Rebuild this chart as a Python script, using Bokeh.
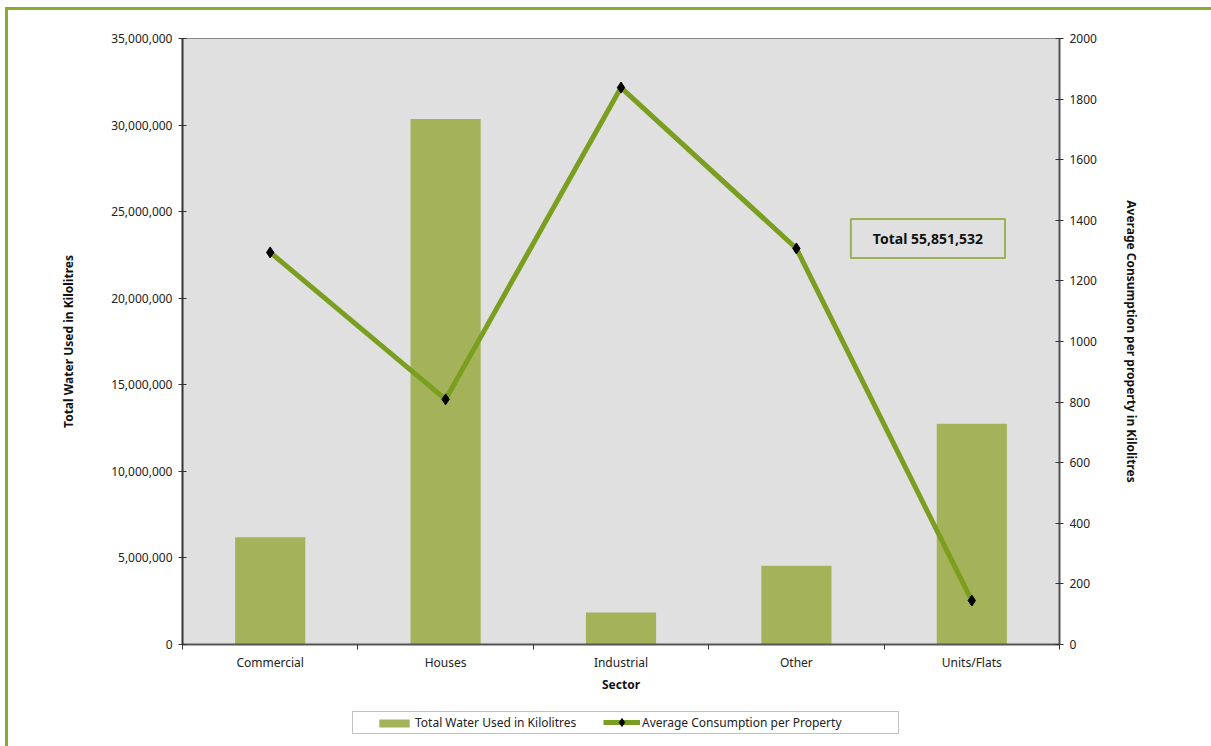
from bokeh.plotting import figure
from bokeh.layouts import column
from bokeh.models import (Range1d, LinearAxis, FixedTicker, SingleIntervalTicker,
                          NumeralTickFormatter, Legend, LegendItem, Label, ColumnDataSource,
                          BoxAnnotation)
from bokeh.embed import file_html
from bokeh.resources import INLINE

# Water use by sector
sectors = ["Commercial", "Houses", "Industrial", "Other", "Units/Flats"]
total_water_kl = [6200000, 30350000, 1850000, 4550000, 12750000]
avg_per_property_kl = [1294, 809, 1838, 1307, 145]
total_label = "Total 55,851,532"
bar_series_name = "Total Water Used in Kilolitres"
line_series_name = "Average Consumption per Property"

FONT = "Noto Sans"
GREEN_FRAME = "#8aac2c"
BAR_COLOR = "#a4b35a"
LINE_COLOR = "#7a9e1f"
PLOT_BG = "#e0e0e0"

xpos = [i + 0.5 for i in range(len(sectors))]
src = ColumnDataSource(dict(x=xpos, total=total_water_kl, avg=avg_per_property_kl))

p = figure(width=1203, height=692, output_backend="svg", toolbar_location=None,
           x_range=Range1d(0, len(sectors)), y_range=Range1d(0, 35000000),
           min_border_left=174, min_border_right=152, min_border_top=28, min_border_bottom=58)

p.background_fill_color = PLOT_BG
p.border_fill_color = "white"
p.outline_line_color = "#8c8c8c"
p.xgrid.visible = False
p.ygrid.visible = False

p.extra_y_ranges = {"avg": Range1d(0, 2000)}

bars = p.vbar(x="x", top="total", width=0.4, source=src, fill_color=BAR_COLOR, line_color=None)
ln = p.line(x="x", y="avg", source=src, y_range_name="avg", line_color=LINE_COLOR, line_width=5)
pts = p.scatter(x="x", y="avg", source=src, y_range_name="avg", marker="diamond",
                size=11, fill_color="black", line_color="black")

# x axis: labels at category centres, tick marks at category boundaries
xax = p.xaxis[0]
xax.ticker = FixedTicker(ticks=xpos, minor_ticks=list(range(len(sectors) + 1)))
xax.major_label_overrides = {x: s for x, s in zip(xpos, sectors)}
xax.minor_tick_in = 0
xax.minor_tick_out = 5
xax.minor_tick_line_color = "#333333"
xax.axis_line_color = "#555555"
xax.axis_line_width = 2
xax.axis_label = "Sector"
xax.axis_label_standoff = 2
xax.major_label_standoff = 3

yax = p.yaxis[0]
yax.ticker = SingleIntervalTicker(interval=5000000)
yax.formatter = NumeralTickFormatter(format="0,0")
yax.axis_label = "Total Water Used in Kilolitres"
yax.axis_label_standoff = 31
yax.minor_tick_line_color = None
yax.axis_line_color = "#333333"
yax.axis_line_width = 2

yr = LinearAxis(y_range_name="avg", ticker=SingleIntervalTicker(interval=200),
                axis_label="Average Consumption per property in Kilolitres")
yr.axis_label_standoff = 23
yr.minor_tick_line_color = None
yr.axis_line_color = "#555555"
yr.axis_line_width = 2
p.add_layout(yr, "right")

for ax in [yax, yr]:
    ax.major_tick_in = 4
    ax.major_tick_out = 4
    ax.major_label_standoff = 6
    ax.major_tick_line_color = "#333333"

for ax in [xax, yax, yr]:
    ax.major_label_text_font = FONT
    ax.major_label_text_font_size = "12px"
    ax.major_label_text_color = "#222222"
    ax.axis_label_text_font = FONT
    ax.axis_label_text_font_style = "bold"
    ax.axis_label_text_font_size = "12px"
    ax.axis_label_text_color = "#111111"

xax.major_tick_line_color = None

p.add_layout(Label(x=4.25, y=23450000, text=total_label, text_align="center",
                   text_baseline="middle", text_font=FONT, text_font_size="14px",
                   text_font_style="bold", text_color="#111111",
                   background_fill_color=PLOT_BG, border_line_color="#98b452",
                   border_line_width=2, padding=(22, 10)))

# legend strip under the chart (its frame lines up with the chart frame)
lf = figure(width=1203, height=44, output_backend="svg", toolbar_location=None,
            x_axis_location=None, y_axis_location=None, min_border=0,
            x_range=Range1d(0, 1), y_range=Range1d(0, 1))
lf.outline_line_color = None
lf.background_fill_color = "white"
lf.border_fill_color = "white"
lf.grid.visible = False

# swatch renderers for the legend; their single point lies outside the visible range
swatch = ColumnDataSource(dict(x=[-10], y=[-10], top=[-10]))
lbar = lf.vbar(x="x", top="top", width=0.1, source=swatch, fill_color=BAR_COLOR, line_color=None)
lline = lf.line(x="x", y="y", source=swatch, line_color=LINE_COLOR, line_width=5)
lpts = lf.scatter(x="x", y="y", source=swatch, marker="diamond", fill_color="black", line_color="black")

lf.add_layout(BoxAnnotation(left=170, right=716, bottom=13, top=35,
                            left_units="screen", right_units="screen",
                            bottom_units="screen", top_units="screen",
                            fill_color="white", fill_alpha=1,
                            line_color="#333333", line_width=1))

common = dict(orientation="horizontal", label_text_font=FONT, label_text_font_size="12px",
              label_text_color="#222222", label_standoff=2, padding=0, margin=0,
              spacing=0, border_line_color=None, background_fill_alpha=0)
leg1 = Legend(items=[LegendItem(label=bar_series_name, renderers=[lbar])],
              location=(193, 15), glyph_width=38, glyph_height=10, **common)
leg2 = Legend(items=[LegendItem(label=line_series_name, renderers=[lline, lpts])],
              location=(421, 14), glyph_width=37, glyph_height=20, **common)
lf.add_layout(leg1)
lf.add_layout(leg2)

page = column(p, lf, spacing=0)
page.margin = (7, 0, 0, 5)
page.styles = {"border-top": f"3px solid {GREEN_FRAME}", "border-left": f"3px solid {GREEN_FRAME}"}

open("out.html", "w").write(file_html(page, INLINE))
